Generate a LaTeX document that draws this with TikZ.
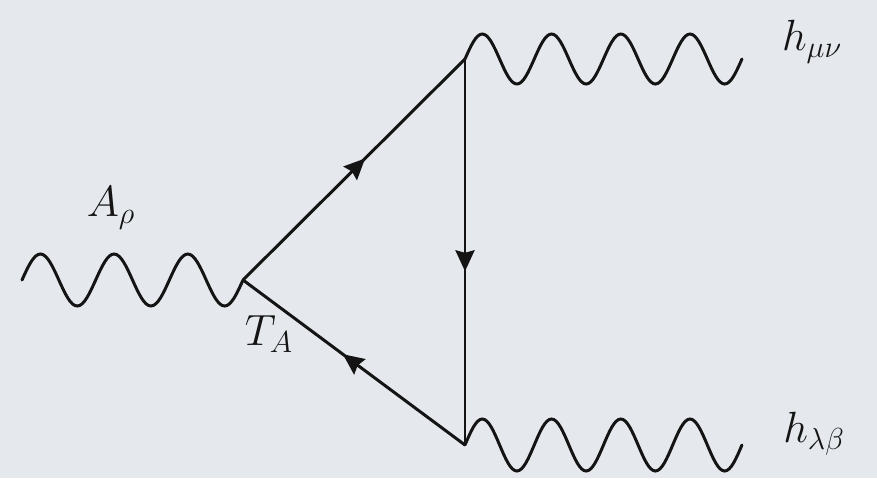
\documentclass[tikz,border=0pt]{standalone}
\usepackage{amsmath}
\usepackage{tikz}
\usetikzlibrary{arrows.meta,decorations.markings}
\definecolor{lineColor}{RGB}{20,20,20}
\definecolor{bgGray}{RGB}{229,232,236}

\begin{document}
\begin{tikzpicture}[
  x=0.02cm, y=-0.02cm,
  font=\fontsize{23}{27}\selectfont,
  fermion/.style={draw=lineColor, line width=1.7pt,
    postaction={decorate, decoration={markings,
      mark=at position 0.55 with {\arrow{Stealth[length=0.42cm, width=0.38cm, inset=0.05cm]}}}}},
  photon/.style={draw=lineColor, line width=1.7pt, line cap=round},
  label/.style={text=lineColor, inner sep=0pt}
]

% ------------------------------------------------------------------
% background
% ------------------------------------------------------------------
\fill[bgGray] (0,0) rectangle (877,478);
\useasboundingbox (0,0) rectangle (877,478);

% ------------------------------------------------------------------
% vertices and external ends
% ------------------------------------------------------------------
\coordinate (vl) at (243,280);
\coordinate (vt) at (465,59);
\coordinate (vb) at (465,445);
\coordinate (ain) at (22,280);
\coordinate (hout1) at (742,59);
\coordinate (hout2) at (742,445);

% fermion loop
\draw[fermion] (vl) -- (vt);
\draw[fermion] (vt) -- (vb);
\draw[fermion] (vb) -- (vl);

% external lines (quarter periods of a sine)
\draw[photon] (ain) \foreach \k in {1,2,3} {
  sin ++(18.42,-26) cos ++(18.42,26) sin ++(18.42,26) cos ++(18.42,-26)};
\draw[photon] (vt) \foreach \k in {1,...,4} {
  sin ++(17.31,-25) cos ++(17.31,25) sin ++(17.31,25) cos ++(17.31,-25)};
\draw[photon] (vb) \foreach \k in {1,...,4} {
  sin ++(17.31,-26) cos ++(17.31,26) sin ++(17.31,26) cos ++(17.31,-26)};

% labels
\node[label] (lA) at (111,208) {$A_\rho$};
\node[label] (lT) at (269,334) {$T_A$};
\node[label] (lh1) at (812,42) {$h_{\mu\nu}$};
\node[label] (lh2) at (814,434) {$h_{\lambda\beta}$};

\end{tikzpicture}
\end{document}
